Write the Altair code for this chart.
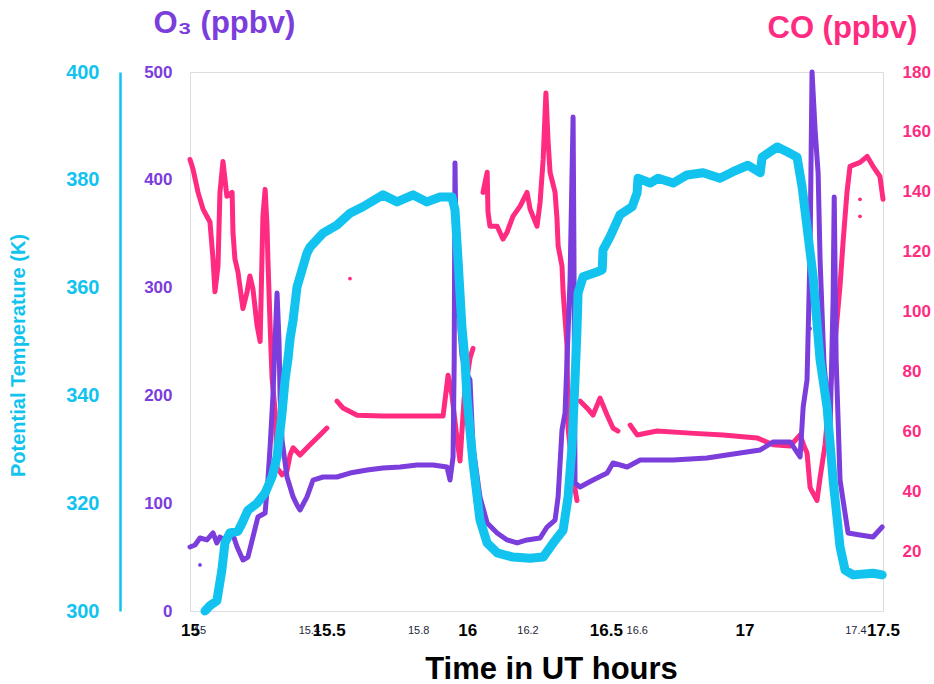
import altair as alt
import pandas as pd

# ---------------- data ----------------
theta_t = [15.054, 15.072, 15.097, 15.115, 15.126, 15.144, 15.173, 15.188, 15.209, 15.242,
           15.271, 15.296, 15.314, 15.332, 15.343, 15.354, 15.361, 15.372, 15.386, 15.422,
           15.433, 15.480, 15.530, 15.577, 15.624, 15.696, 15.747, 15.805, 15.855, 15.902,
           15.945, 15.956, 15.967, 15.981, 15.992, 15.999, 16.021, 16.046, 16.072, 16.108,
           16.165, 16.227, 16.274, 16.310, 16.346, 16.364, 16.378, 16.389, 16.396, 16.400,
           16.418, 16.468, 16.487, 16.490, 16.515, 16.551, 16.595, 16.613, 16.616, 16.660,
           16.689, 16.743, 16.793, 16.851, 16.912, 16.959, 17.013, 17.057, 17.064, 17.118,
           17.154, 17.190, 17.208, 17.226, 17.248, 17.273, 17.298, 17.320, 17.345, 17.363,
           17.392, 17.464, 17.497]
theta_k = [300.0, 301.0, 301.9, 307.6, 312.6, 314.5, 314.8, 316.3, 318.7, 320.0,
           321.9, 324.9, 328.6, 336.7, 342.9, 347.0, 350.5, 354.0, 360.1, 366.4,
           367.5, 370.1, 371.6, 373.8, 375.0, 377.2, 375.9, 377.2, 375.9, 376.8,
           376.8, 374.4, 365.1, 352.7, 346.6, 339.7, 327.5, 316.9, 312.6, 310.8,
           310.0, 309.8, 310.0, 312.6, 315.0, 321.2, 330.4, 342.9, 352.1, 359.0,
           362.0, 362.9, 363.3, 367.0, 369.4, 373.5, 375.0, 377.6, 380.3, 379.4,
           380.3, 379.4, 380.9, 381.3, 380.3, 381.5, 382.7, 381.3, 384.2, 386.1,
           385.2, 384.2, 378.7, 371.2, 362.0, 346.6, 337.9, 324.3, 311.9, 307.6,
           306.7, 307.0, 306.7]

o3_t = [15.000, 15.018, 15.036, 15.061, 15.083, 15.097, 15.108, 15.126, 15.144, 15.159,
        15.170, 15.191, 15.209, 15.227, 15.245, 15.271, 15.281, 15.289, 15.299, 15.307,
        15.314, 15.321, 15.325, 15.332, 15.350, 15.372, 15.386, 15.397, 15.422, 15.444,
        15.480, 15.530, 15.577, 15.639, 15.696, 15.758, 15.819, 15.877, 15.927, 15.938,
        15.949, 15.953, 15.956, 15.960, 15.967, 15.974, 15.981, 15.992, 16.010, 16.021,
        16.046, 16.072, 16.108, 16.144, 16.180, 16.216, 16.263, 16.288, 16.317, 16.328,
        16.342, 16.353, 16.371, 16.382, 16.385, 16.389, 16.407, 16.454, 16.505, 16.526,
        16.577, 16.624, 16.743, 16.865, 16.984, 17.057, 17.104, 17.165, 17.201, 17.212,
        17.226, 17.237, 17.244, 17.255, 17.266, 17.273, 17.287, 17.309, 17.320, 17.324,
        17.331, 17.345, 17.363, 17.374, 17.417, 17.464, 17.497]
o3_v = [59.4, 61.2, 67.7, 65.9, 72.4, 63.1, 68.6, 65.9, 72.4, 67.7,
        59.4, 47.3, 50.1, 68.6, 87.2, 90.9, 121.5, 152.1, 198.5, 251.4,
        295.0, 251.4, 198.5, 158.6, 124.3, 105.8, 98.3, 93.7, 105.8, 121.5,
        124.3, 124.3, 128.0, 130.8, 132.7, 133.6, 135.4, 135.4, 133.6, 121.5,
        142.9, 230.0, 415.6, 334.9, 297.8, 260.7, 237.5, 223.6, 214.3, 152.1,
        105.8, 81.6, 72.4, 65.9, 63.1, 65.9, 67.7, 77.9, 84.4, 105.8,
        167.9, 183.7, 307.0, 458.3, 334.9, 118.7, 115.0, 121.5, 128.0, 137.3,
        133.6, 140.1, 140.1, 141.9, 146.6, 149.4, 156.8, 156.8, 142.9, 189.2,
        214.3, 334.9, 500.0, 446.2, 406.3, 325.6, 230.0, 167.9, 288.5, 384.0,
        232.8, 121.5, 90.9, 72.4, 70.5, 68.6, 77.9]

co_t = [15.000, 15.011, 15.029, 15.047, 15.072, 15.083, 15.090, 15.101, 15.108, 15.119,
        15.133, 15.152, 15.155, 15.162, 15.173, 15.191, 15.206, 15.216, 15.227, 15.242,
        15.253, 15.263, 15.271, 15.278, 15.281, 15.289, 15.296, 15.307, 15.314, 15.332,
        15.350, 15.361, 15.372, 15.397, 15.433, 15.469, 15.494,
        15.530, 15.552, 15.603, 15.696, 15.819, 15.913, 15.931, 15.945, 15.963, 15.974,
        15.989, 15.999, 16.010, 16.021,
        16.057, 16.072, 16.075, 16.082, 16.108, 16.129, 16.144, 16.165, 16.191, 16.216,
        16.227, 16.252, 16.263, 16.274, 16.284, 16.292, 16.299, 16.317, 16.324, 16.328,
        16.342, 16.346, 16.360, 16.364, 16.382, 16.396,
        16.407, 16.432, 16.454, 16.479, 16.505, 16.526, 16.544,
        16.588, 16.613, 16.685, 16.804, 16.923, 17.046, 17.104, 17.165, 17.201, 17.215,
        17.226, 17.237, 17.262, 17.273, 17.291, 17.302, 17.320, 17.327, 17.345, 17.356,
        17.370, 17.381, 17.417, 17.443, 17.464, 17.489, 17.500]
co_v = [150.8, 147.5, 139.8, 134.2, 129.9, 117.6, 106.6, 115.2, 139.8, 150.1,
        138.5, 139.8, 126.5, 117.6, 113.2, 101.0, 106.6, 111.9, 107.6, 95.3,
        90.0, 131.8, 140.8, 128.5, 117.6, 95.3, 77.7, 66.8, 47.8, 45.5,
        46.8, 52.1, 54.5, 52.1, 55.5, 58.8, 61.1,
        70.1, 67.8, 65.4, 65.1, 65.1, 65.1, 78.7, 72.1, 57.8, 50.1,
        71.1, 77.7, 84.4, 87.7,
        139.8, 146.5, 133.2, 128.5, 128.5, 124.2, 126.5, 131.8, 135.2, 139.8,
        134.2, 128.5, 136.5, 150.8, 173.0, 156.4, 146.5, 139.8, 130.9, 121.9,
        115.2, 106.6, 88.7, 61.1, 44.5, 36.9,
        70.1, 67.8, 65.4, 71.1, 65.4, 61.1, 60.1,
        62.1, 58.8, 60.1, 59.4, 58.8, 57.8, 55.5, 55.1, 58.8, 55.1,
        52.8, 41.2, 36.9, 44.5, 55.5, 66.8, 83.4, 90.0, 108.6, 123.2,
        139.8, 148.5, 149.8, 151.8, 148.5, 145.1, 137.5]
co_seg = [1] * 37 + [2] * 14 + [3] * 26 + [4] * 7 + [5] * 27

co_iso_t = [15.577, 17.417, 17.417]
co_iso_v = [111.0, 137.5, 131.8]
o3_iso_t = [15.036, 17.237]
o3_iso_v = [42.7, 262.0]

x_major = [15, 15.5, 16, 16.5, 17, 17.5]
x_minor = [15.0, 15.4, 15.8, 16.2, 16.6, 17.4]
o3_ticks = [0, 100, 200, 300, 400, 500]
theta_ticks = [300, 320, 340, 360, 380, 400]
co_ticks = [20, 40, 60, 80, 100, 120, 140, 160, 180]

# ---------------- styling ----------------
CYAN = "#12c3ef"
PURPLE = "#7b3ddc"
PINK = "#ff2b80"
FONT = "Liberation Sans"

theta_df = pd.DataFrame({"t": theta_t, "v": theta_k})
o3_df = pd.DataFrame({"t": o3_t, "v": o3_v})
co_df = pd.DataFrame({"t": co_t, "v": co_v, "seg": co_seg})
co_iso_df = pd.DataFrame({"t": co_iso_t, "v": co_iso_v})
o3_iso_df = pd.DataFrame({"t": o3_iso_t, "v": o3_iso_v})
minor_df = pd.DataFrame({"t": x_minor})

xs = alt.Scale(domain=[15, 17.5], nice=False, zero=False)
co_scale = alt.Scale(domain=[0, 180], nice=False, zero=False)
o3_scale = alt.Scale(domain=[0, 500], nice=False, zero=False)
th_scale = alt.Scale(domain=[300, 400], nice=False, zero=False)

co_line = alt.Chart(co_df).mark_line(color=PINK, strokeWidth=5, strokeJoin="round", strokeCap="round").encode(
    x=alt.X("t:Q", scale=xs, axis=None),
    y=alt.Y("v:Q", scale=co_scale, axis=alt.Axis(
        orient="right", values=co_ticks, grid=False, ticks=False, domain=False,
        labelColor=PINK, labelFont=FONT, labelFontSize=17, labelFontWeight="bold",
        labelPadding=19, labelAlign="left",
        title="CO (ppbv)", titleColor=PINK, titleFont=FONT, titleFontSize=31, titleFontWeight="bold",
        titleAngle=0, titleAlign="left", titleBaseline="alphabetic", titleX=-116, titleY=-35)),
    detail="seg:N",
)
co_pts = alt.Chart(co_iso_df).mark_circle(color=PINK, size=14, opacity=1).encode(
    x=alt.X("t:Q", scale=xs, axis=None),
    y=alt.Y("v:Q", scale=co_scale, axis=None),
)

o3_line = alt.Chart(o3_df).mark_line(color=PURPLE, strokeWidth=5, strokeJoin="round", strokeCap="round").encode(
    x=alt.X("t:Q", scale=xs, axis=None),
    y=alt.Y("v:Q", scale=o3_scale, axis=alt.Axis(
        orient="left", values=o3_ticks, grid=False, ticks=False, domain=False,
        labelColor=PURPLE, labelFont=FONT, labelFontSize=17, labelFontWeight="bold",
        labelPadding=18,
        title="O₃ (ppbv)", titleColor=PURPLE, titleFont=FONT, titleFontSize=31, titleFontWeight="bold",
        titleAngle=0, titleAlign="left", titleBaseline="alphabetic", titleX=-37, titleY=-40)),
)
o3_pts = alt.Chart(o3_iso_df).mark_circle(color=PURPLE, size=14, opacity=1).encode(
    x=alt.X("t:Q", scale=xs, axis=None),
    y=alt.Y("v:Q", scale=o3_scale, axis=None),
)

theta_line = alt.Chart(theta_df).mark_line(color=CYAN, strokeWidth=9, strokeJoin="round", strokeCap="round").encode(
    x=alt.X("t:Q", scale=xs, axis=alt.Axis(
        orient="bottom", values=x_major, format=".1~f", grid=False, ticks=False, domain=False,
        labelColor="black", labelFont=FONT, labelFontSize=17, labelFontWeight="bold",
        labelPadding=19, labelBaseline="middle", labelFlush=False, labelOverlap=False, zindex=2,
        title="Time in UT hours", titleColor="black", titleFont=FONT, titleFontSize=31,
        titleFontWeight="bold", titleAlign="center", titleBaseline="alphabetic", titleX=361, titleY=67)),
    y=alt.Y("v:Q", scale=th_scale, axis=alt.Axis(
        orient="left", offset=70, values=theta_ticks, grid=False, ticks=False,
        domain=True, domainColor=CYAN, domainWidth=2.5,
        labelColor=CYAN, labelFont=FONT, labelFontSize=20, labelFontWeight="bold",
        labelPadding=21,
        title="Potential Temperature (K)", titleColor=CYAN, titleFont=FONT, titleFontSize=20,
        titleFontWeight="bold", titleAngle=270, titleAlign="center", titleBaseline="middle",
        titleX=-102, titleY=283)),
)

minor_axis = alt.Chart(minor_df).mark_point(opacity=0).encode(
    x=alt.X("t:Q", scale=alt.Scale(domain=[14.9652, 17.5009], nice=False, zero=False),
            axis=alt.Axis(orient="bottom", values=x_minor, format=".1~f", grid=False, ticks=False,
                          domain=False, labelColor="#1e1e3c", labelFont=FONT, labelFontSize=11,
                          labelPadding=19, labelBaseline="middle", labelFlush=False,
                          labelOverlap=False, zindex=0, title=None)),
)

chart = alt.layer(minor_axis, co_line, co_pts, o3_line, o3_pts, theta_line).resolve_scale(
    x="independent", y="independent"
).properties(
    width=693, height=539,
    autosize=alt.AutoSizeParams(type="none"),
    padding={"left": 190, "top": 72, "right": 51, "bottom": 73},
).configure_view(stroke="black", strokeWidth=2.5).configure(background="white")

chart.save("out.html", embed_options={"renderer": "svg", "actions": False})
